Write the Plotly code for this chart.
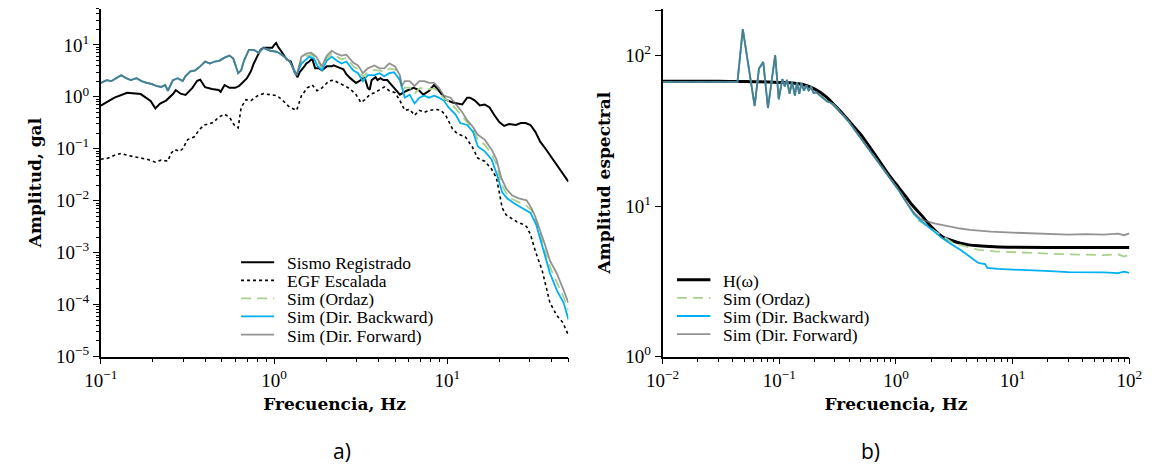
import plotly.graph_objects as go

# ---------------- Panel a) data ----------------
f_reg = [0.100, 0.120, 0.142, 0.170, 0.194, 0.2065, 0.220, 0.238, 0.261, 0.271, 0.289, 0.3085, 0.338, 0.360,
         0.375, 0.400, 0.438, 0.479, 0.492, 0.518, 0.553, 0.597, 0.629, 0.6625, 0.698, 0.735, 0.764, 0.804,
         0.836, 0.869, 0.927, 0.977, 1.003, 1.029, 1.056, 1.112, 1.186, 1.249, 1.316, 1.368, 1.404, 1.497,
         1.537, 1.598, 1.661, 1.727, 1.819, 1.891, 2.017, 2.152, 2.208, 2.357, 2.515, 2.614, 2.753, 2.975,
         3.174, 3.258, 3.343, 3.475, 3.566, 3.660, 3.855, 3.956, 4.113, 4.276, 4.503, 4.930, 5.328, 5.833,
         6.387, 6.815, 7.269, 7.858, 8.384, 8.944, 9.793, 10.72, 11.44, 12.20, 13.02, 13.54, 14.44, 15.41,
         16.44, 17.54, 18.71, 19.96, 21.29, 22.72, 24.87, 26.55, 28.31, 30.21, 32.23, 34.38, 37.17, 39.66,
         42.30, 46.33, 50.0]
a_reg = [0.68, 0.964, 1.20, 1.13, 0.83, 0.60, 0.744, 0.847, 1.13, 1.35, 1.15, 1.09, 1.49, 2.04,
         2.13, 1.53, 1.42, 1.36, 1.25, 1.69, 1.49, 1.49, 1.62, 1.93, 2.29, 3.10, 4.39, 6.21,
         8.05, 8.78, 8.78, 8.78, 10.0, 10.9, 9.17, 7.07, 5.22, 4.79, 2.97, 2.39, 2.97, 3.86,
         4.39, 4.79, 5.45, 3.54, 3.54, 3.24, 3.86, 3.86, 4.03, 3.69, 3.39, 2.73, 2.29, 1.85,
         2.10, 2.39, 2.29, 1.49, 1.36, 2.10, 2.39, 2.10, 2.29, 2.10, 2.10, 1.49, 1.10, 1.31,
         1.49, 1.36, 1.10, 1.31, 1.69, 1.31, 0.884, 0.777, 0.744, 0.712, 0.964, 0.964, 0.847, 0.682,
         0.712, 0.625, 0.442, 0.327, 0.275, 0.300, 0.287, 0.313, 0.313, 0.287, 0.212, 0.137, 0.097, 0.0717,
         0.0507, 0.0344, 0.0233]

f_egf = [0.100, 0.1095, 0.120, 0.131, 0.142, 0.161, 0.184, 0.2065, 0.223, 0.244, 0.254, 0.2675, 0.285, 0.297,
         0.317, 0.347, 0.370, 0.3945, 0.421, 0.449, 0.479, 0.518, 0.553, 0.589, 0.621, 0.646, 0.689, 0.735,
         0.804, 0.869, 0.952, 1.042, 1.126, 1.233, 1.350, 1.440, 1.557, 1.661, 1.772, 1.891, 2.070, 2.208,
         2.357, 2.580, 2.789, 2.975, 3.174, 3.343, 3.566, 3.805, 4.060, 4.331, 4.621, 4.994, 5.328, 5.684,
         6.064, 6.470, 6.902, 7.365, 7.858, 8.604, 9.180, 9.793, 10.72, 11.44, 12.69, 13.89, 15.01, 16.44,
         17.99, 19.20, 19.96, 20.75, 21.85, 23.31, 25.19, 27.60, 28.69, 30.21, 32.23, 35.29, 37.17, 39.14,
         42.85, 46.33, 50.0]
a_egf = [0.063, 0.0658, 0.0749, 0.0817, 0.0749, 0.0687, 0.063, 0.0553, 0.0603, 0.0578, 0.0817, 0.097, 0.0891, 0.10,
         0.150, 0.1705, 0.231, 0.287, 0.300, 0.327, 0.406, 0.462, 0.406, 0.287, 0.252, 0.625, 0.884, 0.847,
         1.05, 1.15, 1.10, 1.05, 0.847, 0.625, 0.549, 1.05, 1.49, 1.69, 1.31, 1.49, 2.01, 2.10,
         1.85, 1.62, 1.36, 1.10, 0.777, 0.884, 1.10, 1.20, 1.36, 1.55, 1.31, 1.20, 0.847, 0.549,
         0.573, 0.442, 0.549, 0.504, 0.549, 0.573, 0.549, 0.442, 0.241, 0.194, 0.1705, 0.1106, 0.0658, 0.0578,
         0.0408, 0.0277, 0.01445, 0.00723, 0.00534, 0.00469, 0.00394, 0.00346, 0.00317, 0.00224, 0.00107, 0.000452, 0.000226, 0.000108,
         6.17e-5, 4.55e-5, 2.59e-5]

# low-frequency part shared by the three simulations
f_sim_low = [0.100, 0.108, 0.1153, 0.123, 0.131, 0.140, 0.149, 0.161, 0.172, 0.184, 0.196, 0.209, 0.223, 0.235,
             0.244, 0.261, 0.278, 0.297, 0.3085, 0.329, 0.351, 0.375, 0.400, 0.426, 0.455, 0.485, 0.518, 0.553,
             0.582, 0.621, 0.646, 0.671, 0.716, 0.764, 0.815, 0.869, 0.952, 1.042, 1.126, 1.233, 1.350]
a_sim_low = [1.85, 2.10, 2.01, 2.29, 2.61, 2.29, 2.10, 2.29, 2.01, 1.85, 1.77, 1.62, 1.55, 1.69,
             1.31, 2.10, 2.29, 2.01, 2.50, 3.10, 3.24, 3.86, 4.79, 4.39, 4.79, 5.00, 5.69, 6.21,
             5.45, 2.85, 3.24, 5.00, 8.05, 8.05, 7.07, 8.78, 7.71, 7.38, 6.21, 4.79, 2.61]

f_ordaz_hi = [1.440, 1.537, 1.640, 1.750, 1.891, 2.017, 2.152, 2.296, 2.450, 2.614, 2.862, 3.052, 3.258, 3.475,
              3.805, 4.060, 4.331, 4.621, 4.994, 5.328, 5.468, 5.684, 6.064, 6.470, 6.902, 7.365, 7.858, 8.384,
              8.944, 9.541, 10.45, 11.14, 12.20, 13.02, 14.07, 15.01, 16.44, 17.99, 19.20, 20.48, 21.85, 23.61,
              25.86, 28.31, 30.6, 32.23, 34.38, 36.2, 39.14, 42.85, 46.93, 50.0]
a_ordaz_hi = [5.2, 6.1, 6.5, 5.6, 3.5, 5.6, 6.8, 5.9, 5.3, 5.6, 3.9, 3.4, 2.4, 3.0,
              3.3, 3.2, 3.0, 3.5, 3.4, 2.3, 1.3, 1.5, 1.5, 1.15, 1.45, 1.5, 1.4, 1.45,
              1.25, 0.95, 0.78, 0.6, 0.42, 0.33, 0.24, 0.15, 0.12, 0.08, 0.05, 0.021, 0.0142, 0.0108,
              0.0094, 0.0082, 0.0066, 0.0041, 0.0022, 0.0012, 0.00053, 0.00027, 0.00014, 7.7e-5]

f_back_hi = [1.440, 1.537, 1.598, 1.705, 1.772, 1.891, 2.017, 2.152, 2.296, 2.450, 2.614, 2.862, 3.052, 3.258,
             3.475, 3.805, 4.060, 4.331, 4.621, 4.930, 5.328, 5.684, 6.064, 6.470, 6.902, 7.365, 7.858, 8.384,
             8.944, 9.541, 10.18, 11.14, 11.89, 13.02, 14.07, 15.01, 16.44, 17.99, 19.45, 20.75, 22.13, 24.24,
             26.55, 28.69, 30.21, 32.6, 34.38, 36.2, 39.14, 42.85, 46.93, 50.0]
a_back_hi = [4.39, 5.45, 5.95, 5.45, 4.03, 3.24, 5.00, 5.95, 5.00, 4.39, 4.79, 3.24, 2.85, 2.01,
             2.61, 2.61, 2.85, 2.50, 2.85, 2.97, 2.10, 0.964, 1.10, 0.744, 0.964, 1.05, 0.964, 1.05,
             0.964, 0.847, 0.625, 0.462, 0.313, 0.287, 0.212, 0.1106, 0.0891, 0.063, 0.0302, 0.01445, 0.01114, 0.00897,
             0.00754, 0.00634, 0.00582, 0.00346, 0.0018, 0.00094, 0.0004, 0.00019, 0.000108, 5.19e-5]

f_fwd_hi = [1.440, 1.537, 1.640, 1.750, 1.891, 2.017, 2.152, 2.296, 2.450, 2.614, 2.862, 3.052, 3.258, 3.475,
            3.805, 4.060, 4.331, 4.621, 4.994, 5.328, 5.468, 5.684, 6.064, 6.470, 6.902, 7.365, 7.858, 8.384,
            8.944, 9.541, 10.45, 11.14, 12.20, 13.02, 14.07, 15.01, 16.44, 17.99, 19.20, 20.48, 21.85, 23.61,
            25.86, 28.69, 30.6, 32.23, 34.38, 36.2, 39.14, 42.85, 46.93, 50.0]
a_fwd_hi = [5.95, 6.77, 7.07, 5.95, 3.86, 6.21, 7.71, 6.77, 6.21, 6.48, 4.58, 4.03, 2.85, 3.54,
            4.03, 3.54, 3.54, 4.39, 3.86, 2.61, 1.62, 2.01, 2.01, 1.62, 2.01, 2.01, 1.85, 1.85,
            1.49, 1.05, 0.964, 0.744, 0.504, 0.356, 0.263, 0.186, 0.150, 0.097, 0.063, 0.0277, 0.0172, 0.0127,
            0.0111, 0.0102, 0.0072, 0.0049, 0.0027, 0.0016, 0.0007, 0.000397, 0.00019, 0.000108]

# ---------------- Panel b) data ----------------
f_h = [0.01, 0.02, 0.03, 0.05, 0.07, 0.1, 0.13, 0.16, 0.2, 0.25, 0.3, 0.36, 0.42, 0.5, 0.6, 0.7, 0.86, 1.0,
       1.23, 1.4, 1.65, 2.0, 2.5, 3.0, 3.56, 4.2, 5.08, 7.0, 10.3, 20, 50, 100]
a_h = [67.5, 67.5, 67.4, 67.2, 66.9, 66.3, 65.8, 64.2, 60.0, 53.5, 46.5, 40.0, 34.8, 29.8, 24.4, 20.6, 16.3, 14.0,
       11.4, 10.0, 8.7, 7.3, 6.25, 5.9, 5.66, 5.52, 5.44, 5.37, 5.33, 5.31, 5.30, 5.30]

f_rat_low = [0.01, 0.0438, 0.0487, 0.0615, 0.067, 0.0729, 0.080, 0.0922, 0.099, 0.1062, 0.1116, 0.1165, 0.1224,
             0.1287, 0.1362, 0.142, 0.1483, 0.1547, 0.1626, 0.1709, 0.1783, 0.1874, 0.197, 0.2084, 0.2238, 0.2402,
             0.2578, 0.2768, 0.2972, 0.3425, 0.3947, 0.455, 0.524, 0.604, 0.696, 0.803, 0.925, 1.066, 1.229]
a_rat_low = [66.5, 66.5, 150.0, 46.2, 81.9, 90.5, 44.8, 100.6, 51.1, 69.7, 62.4, 69.0, 55.6,
             67.0, 54.2, 66.3, 55.6, 65.6, 58.5, 63.1, 58.5, 61.5, 56.5, 57.0, 54.2, 51.6,
             49.6, 48.6, 46.7, 41.2, 36.3, 31.2, 26.9, 23.1, 19.9, 17.1, 14.7, 12.6, 10.6]

f_rat_ordaz = [1.416, 1.57, 1.88, 2.17, 2.5, 3.09, 4.0, 5.08, 7.0, 10.3, 15, 21, 30, 42.7, 60, 80, 90, 100]
a_rat_ordaz = [9.0, 8.0, 7.3, 6.75, 6.3, 5.66, 5.35, 5.12, 5.0, 4.92, 4.85, 4.82, 4.78, 4.75, 4.72, 4.78, 4.62, 4.75]

f_rat_back = [1.416, 1.6, 1.752, 2.0, 2.5, 3.0, 3.56, 4.3, 5.08, 5.8, 6.06, 7.5, 10.3, 15, 21, 30, 42.7, 60, 80, 90, 100]
a_rat_back = [8.89, 8.1, 7.65, 7.0, 6.1, 5.55, 5.12, 4.6, 4.19, 4.12, 3.88, 3.82, 3.79, 3.72, 3.69, 3.64, 3.64, 3.62,
              3.58, 3.66, 3.60]

f_rat_fwd = [1.416, 1.6, 1.752, 2.17, 2.5, 3.0, 3.56, 4.3, 5.08, 6.5, 8.0, 10.3, 14, 21, 30, 42.7, 60, 80, 90, 100]
a_rat_fwd = [9.1, 8.3, 8.0, 7.65, 7.46, 7.25, 7.09, 6.95, 6.85, 6.75, 6.7, 6.65, 6.55, 6.51, 6.45, 6.51, 6.45, 6.55,
             6.4, 6.58]

# tick labels
xa_tickvals = [0.1, 1, 10]
xa_ticktext = ["10<sup>−1</sup>", "10<sup>0</sup>", "10<sup>1</sup>"]
ya_tickvals = [1e-5, 1e-4, 1e-3, 1e-2, 1e-1, 1, 10]
ya_ticktext = ["10<sup>−5</sup>", "10<sup>−4</sup>", "10<sup>−3</sup>", "10<sup>−2</sup>", "10<sup>−1</sup>",
               "10<sup>0</sup>", "10<sup>1</sup>"]
xb_tickvals = [0.01, 0.1, 1, 10, 100]
xb_ticktext = ["10<sup>−2</sup>", "10<sup>−1</sup>", "10<sup>0</sup>", "10<sup>1</sup>", "10<sup>2</sup>"]
yb_tickvals = [1, 10, 100, 200]
yb_ticktext = ["10<sup>0</sup>", "10<sup>1</sup>", "10<sup>2</sup>", ""]

# legend entries
leg_a_names = ["Sismo Registrado", "EGF Escalada", "Sim (Ordaz)", "Sim (Dir. Backward)", "Sim (Dir. Forward)"]
leg_b_names = ["H(ω)", "Sim (Ordaz)", "Sim (Dir. Backward)", "Sim (Dir. Forward)"]

BLUE = "#00B0F0"
GREEN = "#A9D18E"
GRAY = "rgba(105,105,105,0.72)"
SERIF = "Liberation Serif"

sty_reg = dict(color="black", width=2)
sty_egf = dict(color="black", width=1.6, dash="dot")
sty_ord = dict(color=GREEN, width=1.8, dash="10px,6px")
sty_back = dict(color=BLUE, width=1.8)
sty_fwd = dict(color=GRAY, width=1.8)
sty_h = dict(color="black", width=3)

fig = go.Figure()

# ---- panel a ----
fig.add_trace(go.Scatter(x=f_reg, y=a_reg, mode="lines", name=leg_a_names[0], line=sty_reg, xaxis="x", yaxis="y"))
fig.add_trace(go.Scatter(x=f_egf, y=a_egf, mode="lines", name=leg_a_names[1], line=sty_egf, xaxis="x", yaxis="y"))
fig.add_trace(go.Scatter(x=f_sim_low + f_ordaz_hi, y=a_sim_low + a_ordaz_hi, mode="lines", name=leg_a_names[2],
                         line=sty_ord, xaxis="x", yaxis="y"))
fig.add_trace(go.Scatter(x=f_sim_low + f_back_hi, y=a_sim_low + a_back_hi, mode="lines", name=leg_a_names[3],
                         line=sty_back, xaxis="x", yaxis="y"))
fig.add_trace(go.Scatter(x=f_sim_low + f_fwd_hi, y=a_sim_low + a_fwd_hi, mode="lines", name=leg_a_names[4],
                         line=sty_fwd, xaxis="x", yaxis="y"))

# ---- panel b ----
fig.add_trace(go.Scatter(x=f_h, y=a_h, mode="lines", name=leg_b_names[0], line_shape="spline",
                         line=sty_h, xaxis="x2", yaxis="y2"))
fig.add_trace(go.Scatter(x=f_rat_low + f_rat_ordaz, y=a_rat_low + a_rat_ordaz, mode="lines", name=leg_b_names[1],
                         line=sty_ord, xaxis="x2", yaxis="y2"))
fig.add_trace(go.Scatter(x=f_rat_low + f_rat_back, y=a_rat_low + a_rat_back, mode="lines", name=leg_b_names[2],
                         line=sty_back, xaxis="x2", yaxis="y2"))
fig.add_trace(go.Scatter(x=f_rat_low + f_rat_fwd, y=a_rat_low + a_rat_fwd, mode="lines", name=leg_b_names[3],
                         line=sty_fwd, xaxis="x2", yaxis="y2"))


def minor_vals(lo, hi):
    vals = []
    for e in range(lo, hi):
        for k in range(2, 10):
            vals.append(k * 10 ** e)
    return vals


W, H = 1159, 473
tickfont = dict(family=SERIF, size=19, color="black")
titlefont = dict(family="DejaVu Serif", size=17, color="black")
common = dict(type="log", showline=True, linecolor="black", linewidth=1.5, ticks="outside", ticklen=6,
              tickwidth=1.3, tickcolor="black", showgrid=False, zeroline=False, tickfont=tickfont,
              tickmode="array")
minor_style = dict(ticks="outside", ticklen=3.5, tickwidth=1, tickcolor="black", tickmode="array")

# hand-built legends (compact row spacing as in the reference)
shapes = []
annotations = []


def add_legend(names, styles, x0, x1, xt, ys):
    for nm, st, yy in zip(names, styles, ys):
        ln = dict(color=st["color"], width=st["width"])
        if "dash" in st:
            ln["dash"] = st["dash"]
        shapes.append(dict(type="line", xref="paper", yref="paper", x0=x0 / W, x1=x1 / W,
                           y0=1 - yy / H, y1=1 - yy / H, line=ln))
        annotations.append(dict(text=nm, x=xt / W, y=1 - (yy + 1) / H, xref="paper", yref="paper",
                                showarrow=False, xanchor="left", yanchor="middle",
                                font=dict(family=SERIF, size=17.5, color="black")))


add_legend(leg_a_names, [sty_reg, sty_egf, sty_ord, sty_back, sty_fwd], 230, 264, 275,
           [268.5, 287.0, 305.5, 324.0, 342.5])
add_legend(leg_b_names, [sty_h, sty_ord, sty_back, sty_fwd], 677.5, 711.8, 723,
           [286.5, 305.0, 323.5, 342.0])

annotations += [
    dict(text="a)", x=334 / W, y=(H - 462) / H, xref="paper", yref="paper", showarrow=False,
         font=dict(family="Open Sans", size=21, color="black"), xanchor="center", yanchor="middle"),
    dict(text="b)", x=876 / W, y=(H - 462) / H, xref="paper", yref="paper", showarrow=False,
         font=dict(family="Open Sans", size=21, color="black"), xanchor="center", yanchor="middle"),
]

fig.update_layout(
    width=W, height=H, margin=dict(l=0, r=0, t=0, b=0),
    paper_bgcolor="white", plot_bgcolor="white", showlegend=False,
    xaxis=dict(domain=[0.0742, 0.4884], range=[-1, 1.699], tickvals=xa_tickvals, ticktext=xa_ticktext,
               minor=dict(tickvals=minor_vals(-1, 2), **minor_style),
               title=dict(text="<b>Frecuencia, Hz</b>", font=titlefont, standoff=8), anchor="y", **common),
    yaxis=dict(domain=[0.2283, 0.9814], range=[-5, 1.699], tickvals=ya_tickvals, ticktext=ya_ticktext,
               minor=dict(tickvals=minor_vals(-5, 2), **minor_style),
               title=dict(text="<b>Amplitud, gal</b>", font=titlefont, standoff=10), anchor="x", **common),
    xaxis2=dict(domain=[0.5718, 0.9853], range=[-2, 2], tickvals=xb_tickvals, ticktext=xb_ticktext,
                minor=dict(tickvals=minor_vals(-2, 2), **minor_style),
                title=dict(text="<b>Frecuencia, Hz</b>", font=titlefont, standoff=8), anchor="y2", **common),
    yaxis2=dict(domain=[0.2283, 0.9814], range=[0, 2.312], tickvals=yb_tickvals, ticktext=yb_ticktext,
                title=dict(text="<b>Amplitud espectral</b>", font=titlefont, standoff=10), anchor="x2", **common),
    shapes=shapes,
    annotations=annotations,
)

fig.write_html("out.html")
